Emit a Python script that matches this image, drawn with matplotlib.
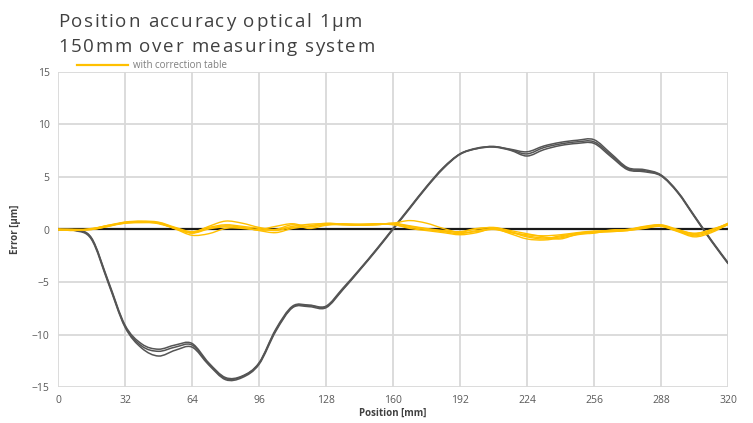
import numpy as np
import matplotlib
matplotlib.use('Agg')
import matplotlib.pyplot as plt
from matplotlib.path import Path
from matplotlib.patches import PathPatch
from matplotlib.lines import Line2D
from matplotlib.textpath import TextToPath
from matplotlib.font_manager import FontProperties

# Data ------------------------------------------------------------------------

position = list(range(0, 321, 8))  # mm

# without correction (three runs)
run_a = [0.0, -0.05, -0.8, -4.9, -9.1, -10.9, -11.4, -11.0, -10.85, -12.7,
         -14.1, -13.95, -12.7, -9.5, -7.3, -7.2, -7.3, -5.6, -3.8, -1.9,
         0.1, 2.1, 4.1, 5.9, 7.2, 7.75, 7.9, 7.65, 7.4, 7.95,
         8.3, 8.5, 8.55, 7.25, 5.9, 5.7, 5.2, 3.6, 1.3, -1.0, -3.15]
run_b = [0.0, -0.1, -0.95, -5.1, -9.3, -11.3, -12.05, -11.5, -11.2, -12.9,
         -14.3, -14.1, -12.85, -9.7, -7.45, -7.35, -7.45, -5.75, -3.9, -2.0,
         0.0, 2.0, 4.0, 5.8, 7.15, 7.7, 7.85, 7.55, 7.0, 7.6,
         8.0, 8.2, 8.2, 6.95, 5.7, 5.5, 5.1, 3.5, 1.2, -1.1, -3.25]
run_c = [0.0, -0.05, -0.85, -5.0, -9.2, -11.1, -11.6, -11.2, -11.0, -12.8,
         -14.2, -14.0, -12.75, -9.6, -7.4, -7.25, -7.35, -5.7, -3.85, -1.95,
         0.05, 2.05, 4.05, 5.85, 7.2, 7.7, 7.9, 7.6, 7.2, 7.8,
         8.15, 8.35, 8.35, 7.1, 5.8, 5.6, 5.15, 3.55, 1.25, -1.05, -3.2]

# with correction table (five runs)
corr_1 = [0.0, -0.05, 0.05, 0.4, 0.7, 0.75, 0.65, 0.15, -0.3, 0.3, 0.8, 0.6, 0.2, 0.0,
          0.3, 0.5, 0.55, 0.45, 0.4, 0.5, 0.6, 0.85, 0.6, 0.1, -0.3, -0.2, 0.0,
          -0.3, -0.5, -0.6, -0.5, -0.3, -0.15, -0.1, 0.0, 0.2, 0.35, -0.05, -0.35,
          -0.05, 0.55]
corr_2 = [0.05, 0.0, 0.0, 0.3, 0.6, 0.7, 0.6, 0.05, -0.55, -0.4, 0.1, 0.15, -0.05, 0.0,
          0.45, 0.1, 0.4, 0.5, 0.45, 0.55, 0.5, 0.1, -0.1, -0.3, -0.5, -0.3, 0.1,
          -0.4, -0.9, -1.0, -0.8, -0.5, -0.3, -0.2, -0.1, 0.15, 0.3, -0.2, -0.7,
          -0.3, 0.5]
corr_3 = [0.0, -0.1, 0.1, 0.35, 0.65, 0.75, 0.55, 0.1, -0.35, 0.05, 0.25, 0.1, 0.0, 0.3,
          0.55, 0.25, 0.5, 0.45, 0.5, 0.45, 0.6, 0.35, 0.1, -0.1, -0.2, 0.1, 0.15,
          -0.2, -0.6, -0.8, -0.7, -0.35, -0.2, -0.15, -0.05, 0.25, 0.4, -0.1, -0.5,
          -0.1, 0.6]
corr_4 = [-0.05, -0.05, 0.0, 0.3, 0.7, 0.8, 0.7, 0.2, -0.2, 0.2, 0.45, 0.3, 0.1, -0.1,
          0.2, 0.35, 0.6, 0.5, 0.4, 0.45, 0.55, 0.3, 0.05, -0.15, -0.25, 0.05, 0.2,
          -0.1, -0.4, -0.7, -0.9, -0.45, -0.35, -0.05, 0.0, 0.3, 0.45, 0.0, -0.4,
          0.0, 0.55]
corr_5 = [0.0, 0.0, 0.05, 0.4, 0.6, 0.65, 0.6, 0.1, -0.3, 0.1, 0.35, 0.2, -0.1, -0.3,
          0.1, 0.3, 0.45, 0.55, 0.5, 0.55, 0.45, 0.2, 0.0, -0.2, -0.4, -0.1, 0.05,
          -0.25, -0.7, -0.9, -0.6, -0.4, -0.25, -0.2, -0.1, 0.1, 0.3, -0.15, -0.6,
          -0.2, 0.45]

reference = [0.0] * len(position)

x_ticks = list(range(0, 321, 32))
y_ticks = list(range(-15, 16, 5))

title_lines = ['Position accuracy optical 1µm', '150mm over measuring system']

# Functions -------------------------------------------------------------------

def smooth_line(ax, xs, ys, **kw):
    # smoothed line like the spreadsheet draws it (bezier through the points)
    pts = np.column_stack([xs, ys]).astype(float)
    n = len(pts)
    verts = [pts[0]]
    codes = [Path.MOVETO]
    for i in range(n - 1):
        p0 = pts[i - 1] if i > 0 else pts[i]
        p1 = pts[i]
        p2 = pts[i + 1]
        p3 = pts[i + 2] if i + 2 < n else pts[i + 1]
        verts += [p1 + (p2 - p0) / 6, p2 - (p3 - p1) / 6, p2]
        codes += [Path.CURVE4] * 3
    patch = PathPatch(Path(verts, codes), fill=False, capstyle='round',
                      joinstyle='round', **kw)
    ax.add_patch(patch)
    return patch


def spaced_text(fig, x_px, y_px, s, size, spacing_px, **kw):
    # text with extra letter spacing, placed one character at a time
    prop = FontProperties(family='Open Sans', size=size)
    t2p = TextToPath()
    W, H = fig.bbox.width, fig.bbox.height
    for i, ch in enumerate(s):
        w, _, _ = t2p.get_text_width_height_descent(s[:i], prop, ismath=False) if i else (0, 0, 0)
        x = x_px + w * fig.dpi / 72 + i * spacing_px
        fig.text(x / W, 1 - y_px / H, ch, fontproperties=prop, ha='left',
                 va='baseline', **kw)

# Main ------------------------------------------------------------------------

plt.rcParams['font.family'] = ['Open Sans', 'DejaVu Sans']

fig = plt.figure(figsize=(7.53, 4.23), dpi=100)
ax = fig.add_axes([58 / 753, 1 - 387 / 423, 670 / 753, 315 / 423])

ax.plot(position, reference, color='#1a1a1a', lw=1.6, zorder=3)

for run in (run_a, run_b, run_c):
    smooth_line(ax, position, run, color='#555555', lw=1.1, zorder=4)

for run in (corr_1, corr_2, corr_3, corr_4, corr_5):
    smooth_line(ax, position, run, color='#FFC000', lw=1.0, zorder=5)

ax.set_xlim(0, 320)
ax.set_ylim(-15, 15)
ax.set_xticks(x_ticks)
ax.set_yticks(y_ticks)
ax.grid(True, color='#d9d9d9', lw=1.3)
ax.set_axisbelow(True)
for s in ax.spines.values():
    s.set_visible(False)
ax.tick_params(length=0, labelsize=7.5, labelcolor='#595959', pad=6)

ax.set_xlabel('Position [mm]', fontsize=7, fontweight='bold', color='#404040', labelpad=1)
ax.set_ylabel('Error [µm]', fontsize=7, fontweight='bold', color='#404040', labelpad=8)

spaced_text(fig, 58, 27, title_lines[0], 13.5, 1.6, color='#404040')
spaced_text(fig, 58, 52, title_lines[1], 13.5, 1.6, color='#404040')

handle = Line2D([], [], color='#FFC000', lw=1.6)
fig.legend([handle], ['with correction table'], loc='center left',
           bbox_to_anchor=(77 / 753, 1 - 66 / 423), frameon=False, fontsize=7,
           labelcolor='#7f7f7f', handlelength=5.2, handletextpad=0.6,
           borderpad=0, borderaxespad=0)

fig.savefig('out.png', dpi=100)
